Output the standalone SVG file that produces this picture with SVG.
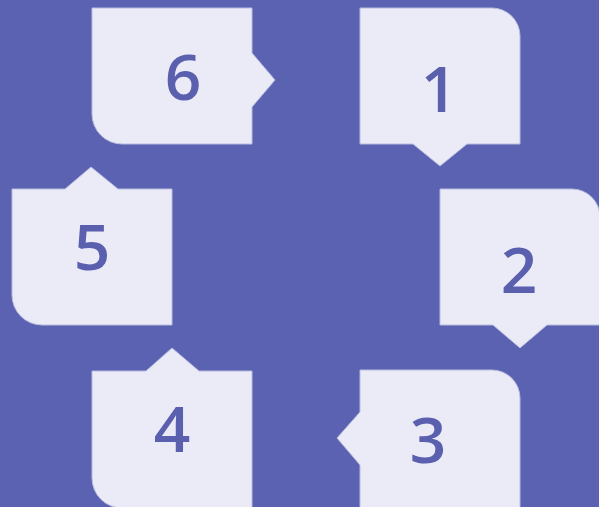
<svg xmlns="http://www.w3.org/2000/svg" width="599" height="507" viewBox="0 0 599 507">
<style>
.shape{fill:#eaebf6;stroke:#b9bce0;stroke-width:1}
.num{font-family:"Open Sans","Noto Sans",sans-serif;font-size:64px;font-weight:600;fill:#5a60ae;text-anchor:middle}
</style>
<rect x="0" y="0" width="599" height="507" fill="#5b62b1"/>
<g id="connectors"></g>
<g id="node6">
<path class="shape" d="M92,8 H252 V53 L275,80 L252,107 V144 H122 A30,30 0 0 1 92,114 Z"/>
<text class="num" x="183" y="100">6</text>
</g>
<g id="node1">
<path class="shape" d="M360,8 H492 A28,28 0 0 1 520,36 V144 H467 L440,166 L413,144 H360 Z"/>
<text class="num" x="439" y="112">1</text>
</g>
<g id="node5">
<path class="shape" d="M12,189 H65 L91,167 L118,189 H172 V325 H42 A30,30 0 0 1 12,295 Z"/>
<text class="num" x="92" y="270">5</text>
</g>
<g id="node2">
<path class="shape" d="M440,189 H572 A28,28 0 0 1 600,217 V325 H547 L520,348 L493,325 H440 Z"/>
<text class="num" x="519" y="293">2</text>
</g>
<g id="node4">
<path class="shape" d="M92,371 H146 L172,348 L199,371 H252 V508 H122 A30,30 0 0 1 92,478 Z"/>
<text class="num" x="172" y="452">4</text>
</g>
<g id="node3">
<path class="shape" d="M360,370 H492 A28,28 0 0 1 520,398 V508 H360 V465 L337,438 L360,412 Z"/>
<text class="num" x="428" y="463">3</text>
</g>
</svg>
